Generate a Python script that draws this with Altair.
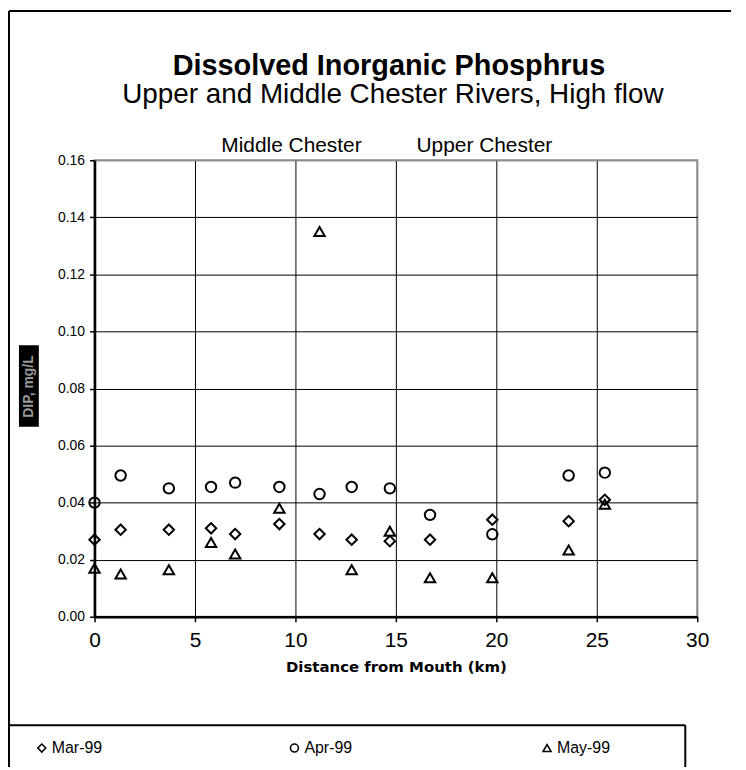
import altair as alt
import pandas as pd

# ---- data ----
distance_km = [0, 1.3, 3.7, 5.8, 7.0, 9.2, 11.2, 12.8, 14.7, 16.7, 19.8, 23.6, 25.4]
mar_99 = [0.027, 0.0305, 0.0305, 0.031, 0.029, 0.0325, 0.029, 0.027, 0.0265, 0.027, 0.034, 0.0335, 0.041]
apr_99 = [0.040, 0.0495, 0.045, 0.0455, 0.047, 0.0455, 0.043, 0.0455, 0.045, 0.0357, 0.0289, 0.0495, 0.0505]
may_99 = [0.017, 0.015, 0.0165, 0.026, 0.022, 0.038, 0.135, 0.0165, 0.030, 0.0137, 0.0137, 0.0234, 0.0394]
series_names = ["Mar-99", "Apr-99", "May-99"]
series_shapes = ["diamond", "circle", "triangle-up"]
x_ticks = [0, 5, 10, 15, 20, 25, 30]
y_ticks = [0.0, 0.02, 0.04, 0.06, 0.08, 0.10, 0.12, 0.14, 0.16]

title_text = "Dissolved Inorganic Phosphrus"
subtitle_text = "Upper and Middle Chester Rivers, High flow"
region_labels = ["Middle Chester", "Upper Chester"]

FONT = "Liberation Sans"

rows = []
for name, vals in zip(series_names, [mar_99, apr_99, may_99]):
    for d, v in zip(distance_km, vals):
        rows.append({"km": d, "dip": v, "series": name})
df = pd.DataFrame(rows)

W, H = 606, 459

points = alt.Chart(df).mark_point(filled=False, color="black", strokeWidth=2, size=110, opacity=1).encode(
    x=alt.X("km:Q", scale=alt.Scale(domain=[0, 30], nice=False, zero=False),
            axis=alt.Axis(values=x_ticks, title="Distance from Mouth (km)", labelFontSize=21,
                          labelPadding=8, tickSize=5, tickColor="black", tickWidth=1.5,
                          labelFlush=False,
                          domainColor="black", domainWidth=2.5,
                          gridColor={"condition": {"test": "datum.value >= 29.9", "value": "#8c8c8c"}, "value": "black"},
                          gridWidth=1, titleFontSize=15, titleFontWeight="bold", titlePadding=9,
                          titleFont="DejaVu Sans", zindex=1)),
    y=alt.Y("dip:Q", scale=alt.Scale(domain=[0, 0.16], nice=False),
            axis=alt.Axis(values=y_ticks, format=".2f", title="DIP, mg/L", labelFontSize=14,
                          labelPadding=5, tickSize=5, tickColor="black", tickWidth=1.5,
                          labelFlush=False,
                          domainColor="black", domainWidth=2.5,
                          gridColor={"condition": {"test": "datum.value >= 0.159", "value": "#8c8c8c"}, "value": "black"},
                          gridWidth=1, titleX=-66, titleY=227, titleAngle=270, titleAlign="center",
                          titleBaseline="middle", titleColor="#9a9a9a", titleFontSize=14,
                          titleFontWeight="bold", zindex=1)),
    shape=alt.Shape("series:N", sort=series_names,
                    scale=alt.Scale(domain=series_names, range=series_shapes),
                    legend=alt.Legend(title=None, orient="none", legendX=-61, legendY=583,
                                      direction="horizontal", columns=3, gridAlign="all",
                                      columnPadding=182, labelFontSize=16, labelOffset=2,
                                      symbolSize=64, symbolStrokeWidth=1.6, symbolStrokeColor="black",
                                      padding=0, labelColor="black")),
)

one = pd.DataFrame({"k": [0]})

ytitle_box = alt.Chart(one).mark_rect(color="black").encode(
    x=alt.value(-76), x2=alt.value(-56), y=alt.value(186), y2=alt.value(268))

title_mark = alt.Chart(pd.DataFrame({"t": [title_text]})).mark_text(
    font=FONT, fontSize=29, fontWeight="bold", baseline="middle", align="center", color="black"
).encode(text="t:N", x=alt.value(296), y=alt.value(-95))
subtitle_mark = alt.Chart(pd.DataFrame({"t": [subtitle_text]})).mark_text(
    font=FONT, fontSize=28, baseline="middle", align="center", color="black"
).encode(text="t:N", x=alt.value(300), y=alt.value(-66))
mid_mark = alt.Chart(pd.DataFrame({"t": [region_labels[0]]})).mark_text(
    font=FONT, fontSize=21, baseline="middle", align="center", color="black"
).encode(text="t:N", x=alt.value(198), y=alt.value(-14))
up_mark = alt.Chart(pd.DataFrame({"t": [region_labels[1]]})).mark_text(
    font=FONT, fontSize=21, baseline="middle", align="center", color="black"
).encode(text="t:N", x=alt.value(392), y=alt.value(-14))

frame_top = alt.Chart(one).mark_rule(color="black", strokeWidth=2).encode(
    x=alt.value(-86), x2=alt.value(640), y=alt.value(-150))
frame_left = alt.Chart(one).mark_rule(color="black", strokeWidth=2).encode(
    x=alt.value(-86), y=alt.value(-150), y2=alt.value(612))
legend_top = alt.Chart(one).mark_rule(color="black", strokeWidth=2).encode(
    x=alt.value(-86), x2=alt.value(594), y=alt.value(568))
legend_right = alt.Chart(one).mark_rule(color="black", strokeWidth=2).encode(
    x=alt.value(594), y=alt.value(568), y2=alt.value(612))

chart = alt.layer(
    ytitle_box, points, title_mark, subtitle_mark, mid_mark, up_mark,
    frame_top, frame_left, legend_top, legend_right
).properties(
    width=W, height=H,
    autosize=alt.AutoSizeParams(type="none"),
    padding={"left": 87, "top": 151, "right": 41, "bottom": 149},
).configure(
    font=FONT,
).configure_view(
    stroke="#8c8c8c", strokeWidth=2,
).configure_axis(
    labelFont=FONT, labelColor="black", titleColor="black",
).configure_legend(
    labelFont=FONT,
)

chart.save("out.html", embed_options={"renderer": "svg", "actions": False})
